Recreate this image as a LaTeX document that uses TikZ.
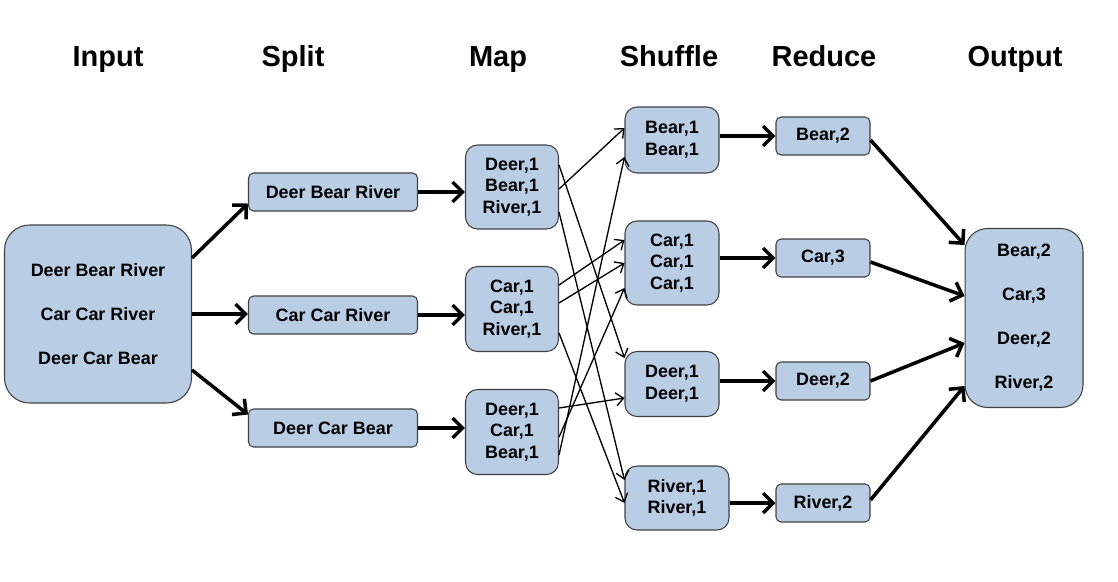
\documentclass[tikz,border=0pt]{standalone}
\usepackage{fontspec}
\setmainfont{Liberation Sans}
\usepackage{tikz}
\usetikzlibrary{calc}
\usetikzlibrary{arrows.meta}
\definecolor{boxblue}{HTML}{B9CDE5}
\definecolor{boxline}{HTML}{404040}
\tikzset{
    box/.style={draw=boxline, fill=boxblue, line width=0.6pt, align=center, inner sep=0pt,
        font=\bfseries\fontsize{10.2}{12.3}\selectfont},
    bigbox/.style={box, font=\bfseries\fontsize{10.2}{25}\selectfont},
    wordbox/.style={box, minimum width=3.38cm, minimum height=0.76cm, rounded corners=0.1cm},
    pairbox/.style={box, minimum width=1.88cm, rounded corners=0.24cm},
    sumbox/.style={box, minimum width=1.88cm, minimum height=0.76cm, rounded corners=0.1cm},
    heading/.style={anchor=base, font=\bfseries\fontsize{16.5}{20}\selectfont},
    fat/.style={line width=2pt, -{Straight Barb[length=0.2cm,width=0.4cm]}},
    thin/.style={line width=0.75pt, -{Straight Barb[length=0.15cm,width=0.26cm]}}
}

\begin{document}
\begin{tikzpicture}[x=0.02cm, y=-0.02cm]
        \useasboundingbox (0,0) rectangle (1118,581);
        \node[heading] (hinput) at (108,67) {Input};
        \node[heading] (hsplit) at (293,67) {Split};
        \node[heading] (hmap) at (498,67) {Map};
        \node[heading] (hshuffle) at (669,67) {Shuffle};
        \node[heading] (hreduce) at (824,67) {Reduce};
        \node[heading] (houtput) at (1015,67) {Output};

        \node[bigbox, minimum width=3.74cm, minimum height=3.56cm, rounded corners=0.5cm] (inp) at (98,314)
            {Deer Bear River\\Car Car River\\Deer Car Bear};

        \node[wordbox] (s1) at (333,192) {Deer Bear River};
        \node[wordbox] (s2) at (333,315) {Car Car River};
        \node[wordbox] (s3) at (333,428) {Deer Car Bear};

        \node[pairbox, minimum width=1.86cm, minimum height=1.68cm] (m1) at (512,187) {Deer,1\\Bear,1\\River,1};
        \node[pairbox, minimum width=1.86cm, minimum height=1.7cm] (m2) at (512,309) {Car,1\\Car,1\\River,1};
        \node[pairbox, minimum width=1.86cm, minimum height=1.7cm] (m3) at (512,432) {Deer,1\\Car,1\\Bear,1};

        \node[pairbox, minimum height=1.32cm] (sh1) at (672,140) {Bear,1\\Bear,1};
        \node[pairbox, minimum height=1.68cm] (sh2) at (672,263) {Car,1\\Car,1\\Car,1};
        \node[pairbox, minimum height=1.3cm] (sh3) at (672,384) {Deer,1\\Deer,1};
        \node[pairbox, minimum width=2.08cm, minimum height=1.28cm] (sh4) at (677,498) {River,1\\River,1};

        \node[sumbox] (r1) at (823,136) {Bear,2};
        \node[sumbox] (r2) at (823,258) {Car,3};
        \node[sumbox] (r3) at (823,381) {Deer,2};
        \node[sumbox] (r4) at (823,503) {River,2};

        \node[bigbox, minimum width=2.36cm, minimum height=3.58cm, rounded corners=0.45cm] (out) at (1024,318)
            {Bear,2\\Car,3\\Deer,2\\River,2};

        \draw[fat] ($(inp.east)+(0,-56)$) -- ($(s1.south west)+(0,-8)$);
        \draw[fat] (inp.east) -- (inp.east -| s2.west);
        \draw[fat] ($(inp.east)+(0,56)$) -- ($(s3.north west)+(0,6)$);

        \draw[fat] (s1.east) -- (s1.east -| m1.west);
        \draw[fat] (s2.east) -- (s2.east -| m2.west);
        \draw[fat] (s3.east) -- (s3.east -| m3.west);

        \draw[thin] ($(m1.east)+(0,2)$) -- ($(sh1.west)+(0,-12)$);
        \draw[thin] ($(m1.east)+(0,-22)$) -- ($(sh3.west)+(0,-26)$);
        \draw[thin] ($(m1.east)+(0,25)$) -- ($(sh4.west)+(0,-18)$);
        \draw[thin] ($(m2.east)+(0,-24)$) -- ($(sh2.west)+(0,-23)$);
        \draw[thin] ($(m2.east)+(0,-6)$) -- (sh2.west);
        \draw[thin] ($(m2.east)+(0,24)$) -- ($(sh4.west)+(0,5)$);
        \draw[thin] ($(m3.east)+(0,-24)$) -- ($(sh3.west)+(0,14)$);
        \draw[thin] ($(m3.east)+(0,5)$) -- ($(sh2.west)+(0,25)$);
        \draw[thin] ($(m3.east)+(0,23)$) -- ($(sh1.west)+(0,17)$);

        \draw[fat] (sh1.east |- r1.west) -- (r1.west);
        \draw[fat] (sh2.east |- r2.west) -- (r2.west);
        \draw[fat] (sh3.east |- r3.west) -- (r3.west);
        \draw[fat] (sh4.east |- r4.west) -- (r4.west);

        \draw[fat] ($(r1.east)+(0,4)$) -- ($(out.west)+(0,-73)$);
        \draw[fat] ($(r2.east)+(0,4)$) -- ($(out.west)+(0,-22)$);
        \draw[fat] (r3.east) -- ($(out.west)+(0,25)$);
        \draw[fat] ($(r4.east)+(0,-3)$) -- ($(out.west)+(0,68)$);
    \end{tikzpicture}
\end{document}
